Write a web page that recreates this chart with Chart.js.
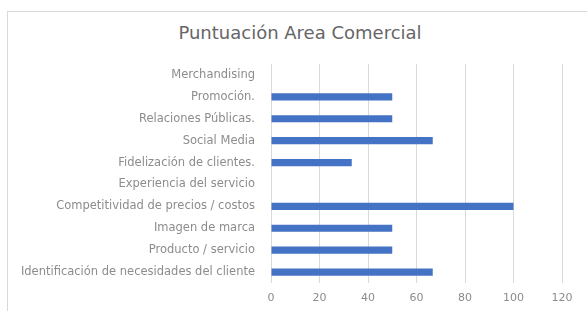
<!DOCTYPE html>
<html>
<head>
<meta charset="utf-8">
<script src="https://cdn.jsdelivr.net/npm/chart.js@4.4.1/dist/chart.umd.min.js"></script>
<style>
  html, body { margin: 0; padding: 0; background: #fff; }
  #wrap { position: relative; width: 587px; height: 311px; overflow: hidden; }
  #frame { position: absolute; left: 7px; top: 11px; width: 600px; height: 320px;
           border-top: 1px solid #d9d9d9; border-left: 1px solid #d9d9d9; box-sizing: border-box; }
  #title { position: absolute; top: 22px; left: 150px; width: 300px; text-align: center;
           font-family: "DejaVu Sans", sans-serif; font-size: 18px; line-height: 21px; color: #666666; white-space: nowrap; }
  canvas { position: absolute; left: 0; top: 0; }
</style>
</head>
<body>
<div id="wrap">
  <div id="frame"></div>
  <div id="title">Puntuación Area Comercial</div>
  <canvas id="c" width="587" height="311"></canvas>
</div>
<script>
const categories = [
  "Merchandising",
  "Promoción.",
  "Relaciones Públicas.",
  "Social Media",
  "Fidelización de clientes.",
  "Experiencia del servicio",
  "Competitividad de precios / costos",
  "Imagen de marca",
  "Producto / servicio",
  "Identificación de necesidades del cliente"
];
const scores = [0, 50, 50, 66.7, 33.3, 0, 100, 50, 50, 66.7];
const xTicks = [0, 20, 40, 60, 80, 100, 120];

new Chart(document.getElementById('c'), {
  type: 'bar',
  data: {
    labels: categories,
    datasets: [{
      data: scores,
      backgroundColor: '#4472C4',
      borderWidth: 0,
      barPercentage: 0.33,
      categoryPercentage: 1.0
    }]
  },
  options: {
    indexAxis: 'y',
    responsive: false,
    animation: false,
    layout: { padding: { top: 64, bottom: 0, left: 0, right: 25 } },
    plugins: { legend: { display: false }, title: { display: false }, tooltip: { enabled: false } },
    scales: {
      x: {
        min: 0, max: 120,
        afterBuildTicks: s => { s.ticks = xTicks.map(v => ({ value: v })); },
        afterFit: s => { s.height = 28; },
        grid: { color: '#d9d9d9', drawTicks: false },
        border: { display: false },
        ticks: { color: '#8c8c8c', padding: 9, font: { family: 'DejaVu Sans', size: 11 } }
      },
      y: {
        afterFit: s => { s.width = 271; },
        grid: { display: false },
        border: { display: false },
        ticks: { color: '#8c8c8c', padding: 8, font: { family: 'DejaVu Sans', size: 11.5 } }
      }
    }
  }
});
</script>
</body>
</html>
